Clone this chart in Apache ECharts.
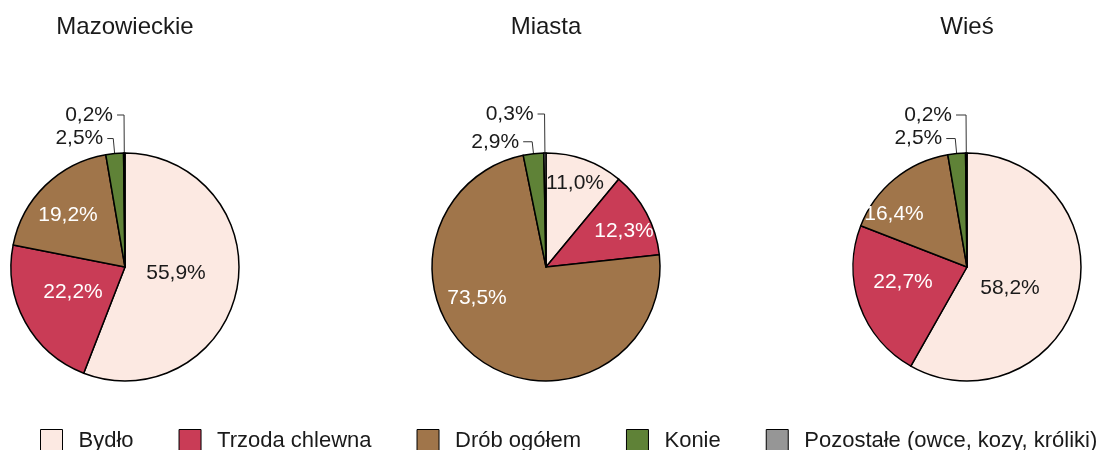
<!DOCTYPE html>
<html>
<head>
<meta charset="utf-8">
<script src="https://cdn.jsdelivr.net/npm/echarts@6/dist/echarts.min.js"></script>
<style>
html,body{margin:0;padding:0;background:#fff;}
#chart{width:1098px;height:450px;}
</style>
</head>
<body>
<div id="chart"></div>
<script>
// ---- data ----
const categories = ['Bydło', 'Trzoda chlewna', 'Drób ogółem', 'Konie', 'Pozostałe (owce, kozy, króliki)'];
const regions = ['Mazowieckie', 'Miasta', 'Wieś'];
const mazowieckie = [55.9, 22.2, 19.2, 2.5, 0.2];
const miasta = [11.0, 12.3, 73.5, 2.9, 0.3];
const wies = [58.2, 22.7, 16.4, 2.5, 0.2];

// ---- styles ----
const colors = ['#fce9e2', '#c93c56', '#a0754a', '#5f8237', '#969696'];
const centers = [[125, 267], [546, 267], [967, 267]];
const pieRadius = 114;
// inner label offsets from pie centre (style)
const innerLabelOffsets = [
  [[51, 6], [-52, 25], [-57, -52]],
  [[29, -84], [78, -36], [-69, 31]],
  [[43, 21], [-64, 15], [-73, -53]]
];
// outside label line lengths for the two small slices (style)
const outerLineLength = [[15, 38], [12, 39], [15, 38]];
const outerLineLength2 = [[6, 7], [9, 7], [9, 10]];

const FONT = 'Liberation Sans, Arial, sans-serif';
const seriesValues = [mazowieckie, miasta, wies];

function fmt(v) { return v.toFixed(1).replace('.', ',') + '%'; }

const chart = echarts.init(document.getElementById('chart'), null, {renderer: 'canvas'});

const series = seriesValues.map((vals, si) => ({
  type: 'pie',
  name: regions[si],
  center: centers[si],
  radius: pieRadius,
  startAngle: 90,
  clockwise: true,
  avoidLabelOverlap: false,
  silent: true,
  animation: false,
  emphasis: {disabled: true, scale: false},
  itemStyle: {borderColor: '#000', borderWidth: 1.5},
  label: {
    show: true,
    position: 'inside',
    formatter: p => fmt(p.value),
    fontSize: 21,
    fontFamily: FONT,
    color: '#ffffff'
  },
  labelLine: {show: false},
  labelLayout: function (params) {
    const di = params.dataIndex;
    if (di >= 3) return {};
    const c = centers[si];
    const o = innerLabelOffsets[si][di];
    return {x: c[0] + o[0], y: c[1] + o[1], align: 'center', verticalAlign: 'middle'};
  },
  data: vals.map((v, i) => {
    const item = {name: categories[i], value: v, itemStyle: {color: colors[i]}};
    if (i === 0) item.label = {color: '#1a1a1a'};
    if (i >= 3) {
      item.label = {position: 'outside', color: '#1a1a1a', distanceToLabelLine: 4};
      item.labelLine = {
        show: true,
        length: outerLineLength[si][i - 3],
        length2: outerLineLength2[si][i - 3],
        smooth: false,
        lineStyle: {color: '#333', width: 1}
      };
    }
    return item;
  })
}));

const option = {
  backgroundColor: '#ffffff',
  animation: false,
  color: colors,
  title: regions.map((r, i) => ({
    text: r,
    left: centers[i][0] - 5,
    textAlign: 'center',
    top: 10,
    textStyle: {fontSize: 24, fontWeight: 'normal', color: '#1a1a1a', fontFamily: FONT}
  })),
  legend: {
    data: categories,
    left: 40,
    top: 429,
    width: 1100,
    padding: 0,
    orient: 'horizontal',
    itemWidth: 22,
    itemHeight: 22,
    itemGap: 45,
    icon: 'rect',
    selectedMode: false,
    textStyle: {fontSize: 22, color: '#1a1a1a', fontFamily: FONT, padding: [0, 0, 0, 11]},
    itemStyle: {borderColor: '#000', borderWidth: 1}
  },
  series: series
};

chart.setOption(option);
</script>
</body>
</html>
